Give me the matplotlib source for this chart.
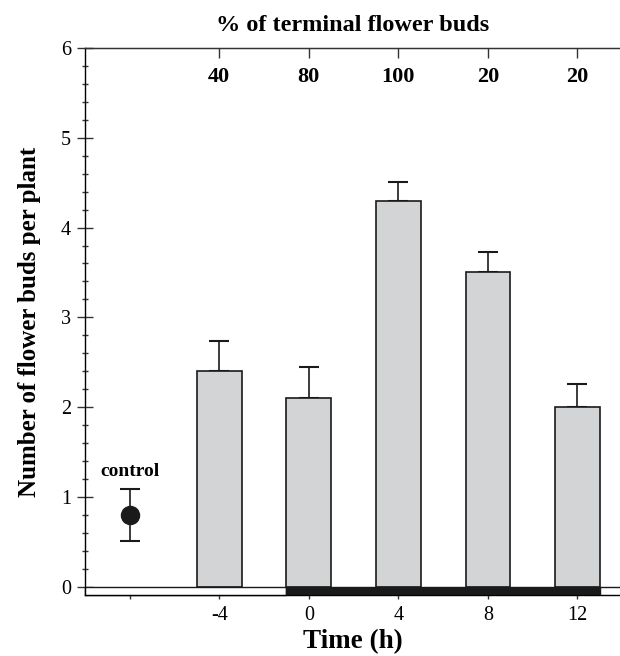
import numpy as np
import matplotlib
matplotlib.use("Agg")
import matplotlib.pyplot as plt
from matplotlib.patches import Rectangle

plt.rcParams['font.family'] = ['Liberation Serif', 'DejaVu Serif']

# data
times = [-4, 0, 4, 8, 12]
means = [2.4, 2.1, 4.3, 3.5, 2.0]
errs = [0.34, 0.35, 0.21, 0.23, 0.26]
pct_terminal = ['40', '80', '100', '20', '20']
control_x = -8
control_mean = 0.8
control_err = 0.29
dark_start = -1
dark_end = 13


def main():
    fig = plt.figure(figsize=(6.2, 6.56), dpi=100)
    ax = fig.add_axes([0.137, 0.093, 0.863, 0.834])
    ax.set_xlim(-10, 13.9)
    ax.set_ylim(-0.09, 6)

    ax.bar(times, means, width=2, color='#d3d4d6', edgecolor='#1a1a1a',
           linewidth=1.2, zorder=2)
    ax.errorbar(times, means, yerr=[np.zeros(len(errs)), errs], fmt='none',
                ecolor='#1a1a1a', elinewidth=1.2, capsize=7.5, capthick=1.5,
                zorder=1)

    ax.errorbar([control_x], [control_mean], yerr=[control_err], fmt='o',
                color='#1a1a1a', markersize=13, elinewidth=1.2, capsize=7.5,
                capthick=1.5)
    ax.text(control_x, control_mean + control_err + 0.1, 'control',
            ha='center', va='bottom', fontsize=14, fontweight='bold')

    # light / dark bar under the axis
    y0, y1 = ax.get_ylim()[0], 0
    xl, xr = ax.get_xlim()
    ax.add_patch(Rectangle((xl, y0), dark_start - xl, y1 - y0, facecolor='white',
                           edgecolor='#1a1a1a', lw=1.0, clip_on=False, zorder=3))
    ax.add_patch(Rectangle((dark_start, y0), dark_end - dark_start, y1 - y0,
                           facecolor='#1a1a1a', edgecolor='#1a1a1a', lw=1.0, zorder=3))
    ax.add_patch(Rectangle((dark_end, y0), xr + 1 - dark_end, y1 - y0, facecolor='white',
                           edgecolor='#1a1a1a', lw=1.0, clip_on=True, zorder=3))

    ax.spines['right'].set_visible(False)
    for s in ['left', 'top', 'bottom']:
        ax.spines[s].set_linewidth(1.0)
        ax.spines[s].set_color('#333333')

    ax.set_yticks(range(0, 7))
    ax.set_yticks(np.arange(0, 6.01, 0.2), minor=True)
    ax.tick_params(axis='y', which='major', direction='inout', length=12,
                   width=1, labelsize=14.5, pad=4, colors='#333333', labelcolor='black')
    ax.tick_params(axis='y', which='minor', direction='inout', length=5,
                   width=1, colors='#333333')

    ax.set_xticks([control_x] + times)
    ax.set_xticklabels([''] + [str(t) for t in times])
    ax.tick_params(axis='x', direction='out', length=3, width=1, labelsize=14.5,
                   pad=5, colors='#333333', labelcolor='black')

    ax2 = ax.twiny()
    ax2.set_xlim(ax.get_xlim())
    ax2.spines['right'].set_visible(False)
    ax2.spines['top'].set_color('#333333')
    ax2.set_xticks(times)
    ax2.set_xticklabels(pct_terminal, fontweight='bold')
    ax2.tick_params(axis='x', direction='in', length=7, width=1, labelsize=16,
                    pad=-28, colors='#333333', labelcolor='black')

    ax.annotate('% of terminal flower buds', xy=(0.5, 1.0), xycoords='axes fraction',
                xytext=(0, 16), textcoords='offset points', ha='center',
                va='center', fontsize=17.5, fontweight='bold')

    ax.set_xlabel('Time (h)', fontsize=19.5, fontweight='bold', labelpad=3)
    ax.set_ylabel('Number of flower buds per plant', fontsize=18,
                  fontweight='bold', labelpad=14)

    fig.savefig('out.png', dpi=100)


main()
